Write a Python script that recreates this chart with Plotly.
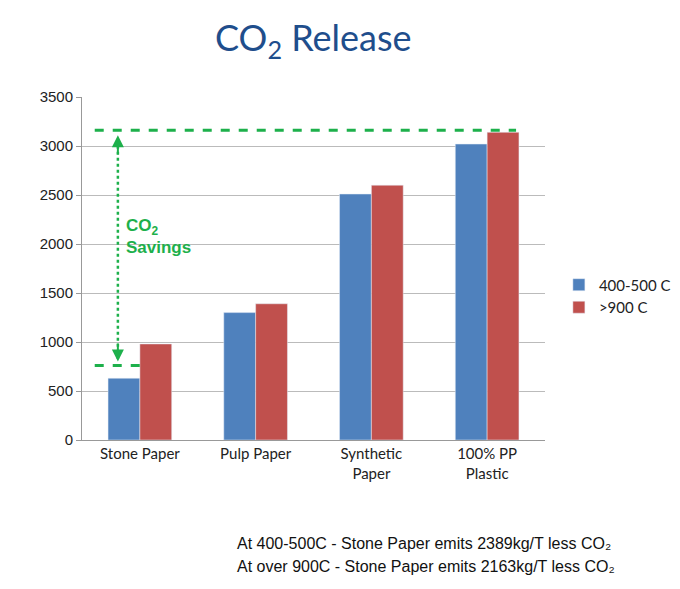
import plotly.graph_objects as go

categories = ["Stone Paper", "Pulp Paper", "Synthetic<br>Paper", "100% PP<br>Plastic"]
low_temp = [630, 1300, 2510, 3020]
high_temp = [980, 1390, 2600, 3140]

fig = go.Figure()
fig.add_bar(x=[0,1,2,3], y=low_temp, name="400-500 C", marker_color="#4F81BD")
fig.add_bar(x=[0,1,2,3], y=high_temp, name=">900 C", marker_color="#C0504D")

g = "#1DB04B"
fig.add_shape(type="line", x0=-0.39, x1=3.25, y0=3160, y1=3160, line=dict(color=g, width=3, dash="dash"))
fig.add_shape(type="line", x0=-0.39, x1=0.0, y0=760, y1=760, line=dict(color=g, width=3, dash="dash"))
fig.add_shape(type="line", x0=-0.19, x1=-0.19, y0=830, y1=3090, line=dict(color=g, width=2.5, dash="dot"))
fig.add_annotation(x=-0.19, y=3110, ax=-0.19, ay=2900, xref="x", yref="y", axref="x", ayref="y",
                   text="", showarrow=True, arrowhead=2, arrowsize=1.2, arrowwidth=2, arrowcolor=g)
fig.add_annotation(x=-0.19, y=800, ax=-0.19, ay=1000, xref="x", yref="y", axref="x", ayref="y",
                   text="", showarrow=True, arrowhead=2, arrowsize=1.2, arrowwidth=2, arrowcolor=g)
fig.add_annotation(x=-0.14, y=2080, xref="x", yref="y", xanchor="left", showarrow=False, align="left",
                   text="<b>CO<sub>2</sub><br>Savings</b>", font=dict(color=g, size=17, family="Arial"))

fig.add_annotation(x=0.5, y=(440-40)/343, xref="paper", yref="paper", yanchor="middle", showarrow=False,
                   text="CO<sub>2</sub> Release", font=dict(size=36, color="#1F4E8C", family="Lato"))
fig.add_annotation(x=(236-82)/466, y=(440-543)/343, xref="paper", yref="paper", xanchor="left", yanchor="middle",
                   showarrow=False, text="At 400-500C - Stone Paper emits 2389kg/T less CO₂",
                   font=dict(size=16, color="#111", family="Arial"))
fig.add_annotation(x=(236-82)/466, y=(440-566)/343, xref="paper", yref="paper", xanchor="left", yanchor="middle",
                   showarrow=False, text="At over 900C - Stone Paper emits 2163kg/T less CO₂",
                   font=dict(size=16, color="#111", family="Arial"))

fig.update_layout(
    width=680, height=589, paper_bgcolor="white", plot_bgcolor="white",
    margin=dict(l=74, r=140, t=89, b=157), barmode="group", bargap=0.45, bargroupgap=0,
    font=dict(family="Lato", size=15, color="#222"),
    legend=dict(x=1.03, y=0.42, yanchor="middle", font=dict(size=15, family="Lato")),
    showlegend=True,
)
fig.update_xaxes(tickvals=[0,1,2,3], ticktext=categories, range=[-0.5,3.5], showline=True,
                 linecolor="#999", ticks="", fixedrange=True, tickfont=dict(size=15))
fig.update_yaxes(range=[0,3500], dtick=500, gridcolor="#BBBBBB", showline=True, linecolor="#999",
                 ticks="outside", ticklen=5, tickcolor="#999", zeroline=False,
                 tickfont=dict(family="Arial", size=15))
fig.write_html("out.html")
